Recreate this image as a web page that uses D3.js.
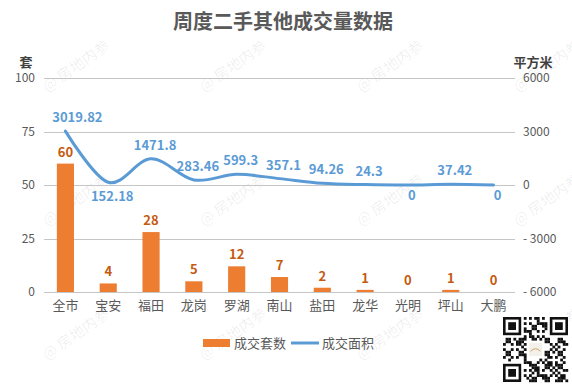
<!DOCTYPE html>
<html>
<head>
<meta charset="utf-8">
<script src="https://cdn.jsdelivr.net/npm/d3@7"></script>
<style>
  body { margin: 0; background: #fff; }
  svg { font-family: "Noto Sans CJK SC", "Noto Sans", sans-serif; }
</style>
</head>
<body>
<div id="viz"></div>
<script>
// data
var districts = ["全市", "宝安", "福田", "龙岗", "罗湖", "南山", "盐田", "龙华", "光明", "坪山", "大鹏"];
var units = [60, 4, 28, 5, 12, 7, 2, 1, 0, 1, 0];
var areas = [3019.82, 152.18, 1471.8, 283.46, 599.3, 357.1, 94.26, 24.3, 0, 37.42, 0];
var areaLabels = ["3019.82", "152.18", "1471.8", "283.46", "599.3", "357.1", "94.26", "24.3", "0", "37.42", "0"];
var leftTicks = [0, 25, 50, 75, 100];
var rightTicks = [-6000, -3000, 0, 3000, 6000];

var W = 572, H = 385,
    margin = {top: 78, right: 57, bottom: 93, left: 44},
    width = W - margin.left - margin.right,
    height = H - margin.top - margin.bottom;

var svg = d3.select('#viz').append('svg')
    .attr('width', W)
    .attr('height', H);

// watermark
var wm = svg.append('g');
for (var r = 0; r < 3; r++) {
    for (var c = 0; c < 4; c++) {
        wm.append('text')
            .attr('transform', 'translate(' + (76 + c * 157) + ',' + (66 + r * 134) + ') rotate(-35)')
            .attr('text-anchor', 'middle')
            .attr('dy', '0.35em')
            .style('font-size', '15px')
            .style('fill', '#000')
            .style('fill-opacity', 0.07)
            .text('@ 房地内参');
    }
}

svg.append('text')
    .attr('x', 283).attr('y', 29)
    .attr('text-anchor', 'middle')
    .style('font-size', '20px')
    .style('font-weight', 'bold')
    .style('fill', '#595959')
    .text('周度二手其他成交量数据');

var x = d3.scaleBand()
    .domain(districts)
    .range([0, width])
    .paddingInner(0.6)
    .paddingOuter(0.3);

var yL = d3.scaleLinear().domain([0, 100]).range([height, 0]);
var yR = d3.scaleLinear().domain([-6000, 6000]).range([height, 0]);

var g = svg.append('g')
    .attr('transform', 'translate(' + margin.left + ',' + margin.top + ')');

// grid
g.selectAll('line.grid')
    .data(leftTicks)
    .enter().append('line')
    .attr('class', 'grid')
    .attr('x1', 0).attr('x2', width)
    .attr('y1', function(d) { return Math.round(yL(d)) + 0.5; })
    .attr('y2', function(d) { return Math.round(yL(d)) + 0.5; })
    .style('stroke', '#c6c6c6')
    .style('stroke-width', 1);

var yAxisL = g.append('g')
    .call(d3.axisLeft(yL).tickValues(leftTicks).tickSize(0).tickPadding(9));
yAxisL.select('.domain').remove();
yAxisL.selectAll('text').style('font-size', '12px').style('fill', '#595959')
    .style('font-family', '"Noto Sans CJK SC", sans-serif');

var yAxisR = g.append('g')
    .attr('transform', 'translate(' + width + ',0)')
    .call(d3.axisRight(yR).tickValues(rightTicks).tickSize(0).tickPadding(8)
        .tickFormat(function(d) { return d < 0 ? '- ' + Math.abs(d) : d; }));
yAxisR.select('.domain').remove();
yAxisR.selectAll('text').style('font-size', '12px').style('fill', '#595959')
    .style('font-family', '"Noto Sans CJK SC", sans-serif');

svg.append('text').attr('x', 26).attr('y', 67).attr('text-anchor', 'middle')
    .style('font-size', '13px').style('font-weight', 'bold').style('fill', '#404040').text('套');
svg.append('text').attr('x', 533).attr('y', 67).attr('text-anchor', 'middle')
    .style('font-size', '13px').style('font-weight', 'bold').style('fill', '#404040').text('平方米');

// x axis labels
var xAxis = g.append('g')
    .attr('transform', 'translate(0,' + height + ')')
    .call(d3.axisBottom(x).tickSize(0).tickPadding(9));
xAxis.select('.domain').remove();
xAxis.selectAll('text').style('font-size', '13px').style('fill', '#595959')
    .style('font-family', '"Noto Sans CJK SC", sans-serif');

// bars
g.selectAll('rect.bar')
    .data(units)
    .enter().append('rect')
    .attr('class', 'bar')
    .attr('x', function(d, i) { return x(districts[i]); })
    .attr('width', x.bandwidth())
    .attr('y', function(d) { return yL(d); })
    .attr('height', function(d) { return height - yL(d); })
    .attr('fill', '#ED7D31');

g.selectAll('text.barlab')
    .data(units)
    .enter().append('text')
    .attr('class', 'barlab')
    .attr('x', function(d, i) { return x(districts[i]) + x.bandwidth() / 2; })
    .attr('y', function(d) { return yL(d) - 7; })
    .attr('text-anchor', 'middle')
    .style('font-size', '13px')
    .style('font-weight', 'bold')
    .style('fill', '#C55A11')
    .text(function(d) { return d; });

// line
var cx = function(d, i) { return x(districts[i]) + x.bandwidth() / 2; };
var line = d3.line()
    .x(cx)
    .y(function(d) { return yR(d); })
    .curve(d3.curveCardinal.tension(0));

g.append('path')
    .datum(areas)
    .attr('d', line)
    .attr('fill', 'none')
    .attr('stroke', '#5B9BD5')
    .attr('stroke-width', 3)
    .attr('stroke-linecap', 'round');

g.selectAll('text.arealab')
    .data(areas)
    .enter().append('text')
    .attr('class', 'arealab')
    .attr('x', function(d, i) { return cx(d, i) + (i == 0 ? 12 : 4); })
    .attr('y', function(d, i) {
        // 152.18 and the zeros sit below the line
        if (i == 1) return yR(d) + 19;
        if (d == 0) return yR(d) + 15;
        return yR(d) - 9;
    })
    .attr('text-anchor', 'middle')
    .style('font-size', '13px')
    .style('font-weight', 'bold')
    .style('fill', '#5B9BD5')
    .text(function(d, i) { return areaLabels[i]; });

// legend
var lg = svg.append('g').attr('transform', 'translate(0,343)');
lg.append('rect').attr('x', 203).attr('y', -4).attr('width', 27).attr('height', 8).attr('fill', '#ED7D31');
lg.append('text').attr('x', 234).attr('y', 0).attr('dy', '0.35em')
    .style('font-size', '13px').style('fill', '#595959').text('成交套数');
lg.append('line').attr('x1', 291).attr('x2', 319).attr('y1', 0).attr('y2', 0)
    .attr('stroke', '#5B9BD5').attr('stroke-width', 3);
lg.append('text').attr('x', 322).attr('y', 0).attr('dy', '0.35em')
    .style('font-size', '13px').style('fill', '#595959').text('成交面积');

// qr-like badge
var qr = svg.append('g').attr('transform', 'translate(503,317)');
var n = 25, cell = 65 / n;
qr.append('rect').attr('width', 65).attr('height', 65).attr('fill', '#fff');
for (var i = 0; i < n; i++) {
    for (var j = 0; j < n; j++) {
        var inFinder = (i < 8 && j < 8) || (i >= n - 8 && j < 8) || (i < 8 && j >= n - 8);
        var inLogo = i >= 9 && i <= 15 && j >= 9 && j <= 15;
        if (inFinder || inLogo) continue;
        if (((i * 7 + j * 13 + i * j * 3) % 5) < 2 || ((i ^ j) % 3 == 0 && (i + j) % 2 == 0)) {
            qr.append('rect').attr('x', i * cell).attr('y', j * cell)
                .attr('width', cell + 0.2).attr('height', cell + 0.2).attr('fill', '#111');
        }
    }
}
[[0, 0], [n - 7, 0], [0, n - 7]].forEach(function(p) {
    qr.append('rect').attr('x', p[0] * cell + cell / 2).attr('y', p[1] * cell + cell / 2)
        .attr('width', 6 * cell).attr('height', 6 * cell)
        .attr('fill', 'none').attr('stroke', '#111').attr('stroke-width', cell);
    qr.append('rect').attr('x', (p[0] + 2) * cell).attr('y', (p[1] + 2) * cell)
        .attr('width', 3 * cell).attr('height', 3 * cell).attr('fill', '#111');
});
qr.append('rect').attr('x', 10 * cell).attr('y', 10 * cell).attr('width', 5 * cell).attr('height', 5 * cell)
    .attr('fill', '#f4f1ea');
qr.append('path').attr('d', 'M' + (10.6 * cell) + ',' + (13.2 * cell) + ' q' + (1.9 * cell) + ',' + (-2 * cell) + ' ' + (3.8 * cell) + ',0')
    .attr('fill', 'none').attr('stroke', '#c9a46a').attr('stroke-width', 1);
</script>
</body>
</html>
